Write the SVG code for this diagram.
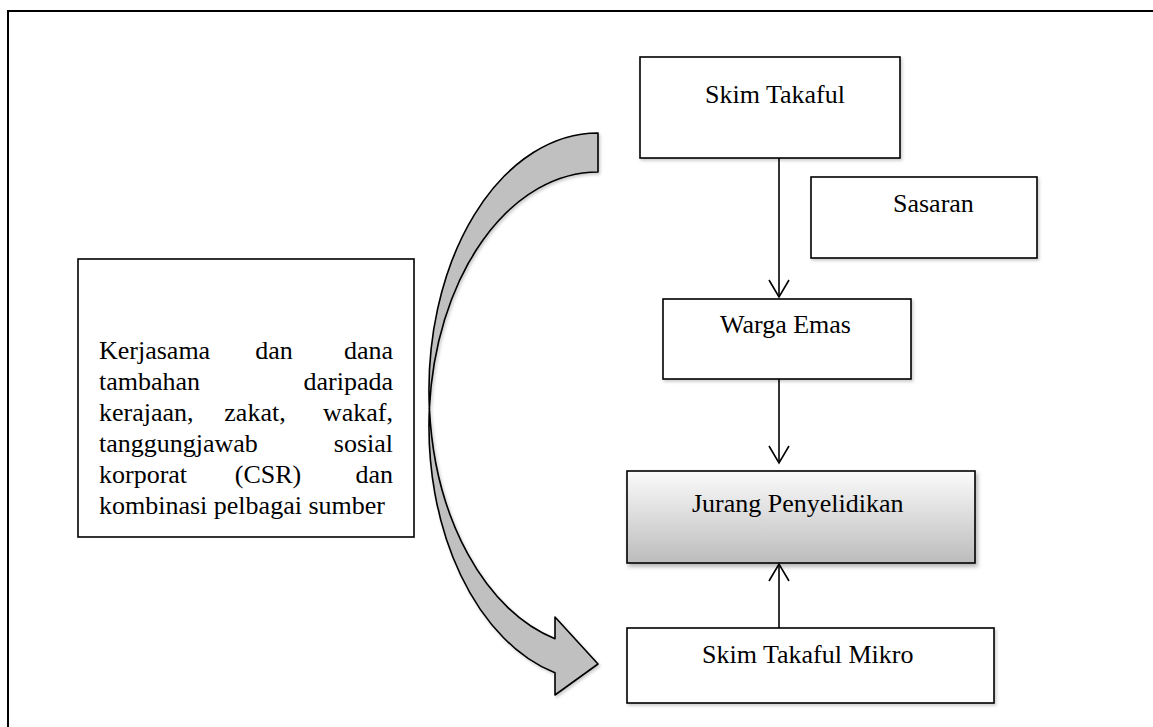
<svg xmlns="http://www.w3.org/2000/svg" width="1153" height="727" viewBox="0 0 1153 727">
  <style>
    .box { fill: #ffffff; stroke: #000000; stroke-width: 1.6; }
    .lbl { font-family: "Liberation Serif", "Times New Roman", serif; font-size: 26px; fill: #000000; }
    .conn { stroke: #000000; stroke-width: 1.6; fill: none; }
    .band { fill: #c0c0c0; stroke: #000000; stroke-width: 1.6; stroke-linejoin: round; }
  </style>
  <defs>
    <linearGradient id="gradGap" x1="0" y1="0" x2="0" y2="1">
      <stop offset="0" stop-color="#fbfbfb"/>
      <stop offset="1" stop-color="#bcbcbc"/>
    </linearGradient>
    <filter id="shadow" x="-10%" y="-10%" width="125%" height="130%">
      <feDropShadow dx="2" dy="3" stdDeviation="2" flood-color="#000000" flood-opacity="0.3"/>
    </filter>
    <filter id="shadowLight" x="-10%" y="-10%" width="125%" height="130%">
      <feDropShadow dx="1.5" dy="2" stdDeviation="1.5" flood-color="#000000" flood-opacity="0.2"/>
    </filter>
    <marker id="open" markerUnits="userSpaceOnUse" markerWidth="40" markerHeight="40" refX="0" refY="0" orient="auto" overflow="visible">
      <path d="M -17,-10 L 0,0 L -17,10" fill="none" stroke="#000000" stroke-width="1.6"/>
    </marker>
  </defs>

  <!-- page frame -->
  <path d="M 8,740 L 8,11 L 1170,11" fill="none" stroke="#000000" stroke-width="2"/>

  <!-- curved block arrow from the top around to the micro scheme -->
  <g id="curved-arrow" filter="url(#shadowLight)">
    <path class="band" d="M 598,133 A 169,257.1 0 0 0 429.4,408.4 A 169,254.6 0 0 1 598,172 Z"/>
    <path class="band" d="M 429.4,408.4 A 169,254.6 0 0 0 555,672.8 L 555,695 L 598,664 L 555,617 L 555,638.7 A 169,257.1 0 0 1 429.4,408.4 Z"/>
  </g>

  <g id="node-sumber">
    <rect class="box" x="78" y="259" width="336" height="278"/>
    <text class="lbl" x="99" y="359">Kerjasama</text>
    <text class="lbl" x="274" y="359" text-anchor="middle">dan</text>
    <text class="lbl" x="393" y="359" text-anchor="end">dana</text>
    <text class="lbl" x="99" y="390">tambahan</text>
    <text class="lbl" x="393" y="390" text-anchor="end">daripada</text>
    <text class="lbl" x="99" y="421">kerajaan,</text>
    <text class="lbl" x="255" y="421" text-anchor="middle">zakat,</text>
    <text class="lbl" x="393" y="421" text-anchor="end">wakaf,</text>
    <text class="lbl" x="99" y="452">tanggungjawab</text>
    <text class="lbl" x="393" y="452" text-anchor="end">sosial</text>
    <text class="lbl" x="99" y="483">korporat</text>
    <text class="lbl" x="268" y="483" text-anchor="middle">(CSR)</text>
    <text class="lbl" x="393" y="483" text-anchor="end">dan</text>
    <text class="lbl" x="99" y="514">kombinasi pelbagai sumber</text>
  </g>

  <g id="node-skim-takaful">
    <rect class="box" x="640" y="57" width="260" height="101" filter="url(#shadowLight)"/>
    <text class="lbl" x="705" y="103">Skim Takaful</text>
  </g>

  <g id="node-sasaran">
    <rect class="box" x="811" y="177" width="226" height="81" filter="url(#shadowLight)"/>
    <text class="lbl" x="893" y="212">Sasaran</text>
  </g>

  <g id="node-warga-emas">
    <rect class="box" x="663" y="299" width="248" height="80" filter="url(#shadowLight)"/>
    <text class="lbl" x="720" y="333">Warga Emas</text>
  </g>

  <g id="node-jurang">
    <rect x="627" y="471" width="348" height="92" fill="url(#gradGap)" stroke="#000000" stroke-width="1.6" filter="url(#shadow)"/>
    <text class="lbl" x="692" y="512">Jurang Penyelidikan</text>
  </g>

  <g id="node-mikro">
    <rect class="box" x="627" y="628" width="367" height="75" filter="url(#shadowLight)"/>
    <text class="lbl" x="702" y="663">Skim Takaful Mikro</text>
  </g>

  <g id="connectors">
    <line class="conn" x1="779" y1="158" x2="779" y2="297" marker-end="url(#open)"/>
    <line class="conn" x1="779" y1="379" x2="779" y2="463" marker-end="url(#open)"/>
    <line class="conn" x1="779" y1="628" x2="779" y2="564" marker-end="url(#open)"/>
  </g>
</svg>
